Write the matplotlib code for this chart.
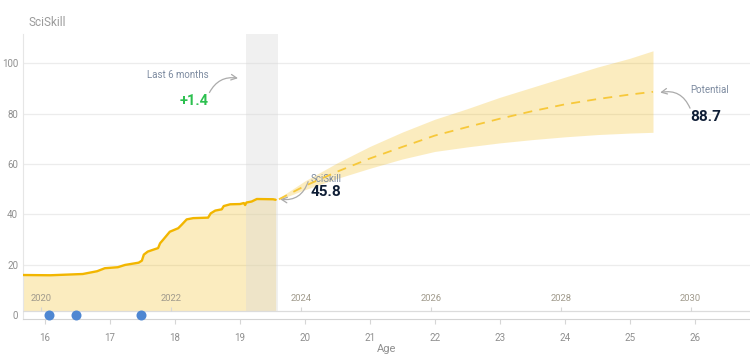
import matplotlib.pyplot as plt

# history of the skill score, by age
hist_age = [15.66, 16.08, 16.58, 16.8, 16.92, 17.12, 17.23, 17.44, 17.49, 17.52,
            17.58, 17.67, 17.74, 17.77, 17.82, 17.92, 18.05, 18.1, 18.18, 18.28,
            18.51, 18.55, 18.62, 18.72, 18.75, 18.85, 19.0, 19.06, 19.08, 19.1,
            19.18, 19.26, 19.51, 19.55]
hist_val = [15.9, 15.8, 16.3, 17.4, 18.6, 19.0, 19.9, 20.8, 21.6, 24.0,
            25.2, 26.0, 26.6, 28.5, 30.0, 33.1, 34.5, 35.8, 38.0, 38.5,
            38.7, 40.4, 41.5, 42.0, 43.3, 44.0, 44.1, 44.5, 43.7, 44.7,
            45.1, 46.1, 46.0, 45.8]

# forecast towards potential
fc_age = [19.6, 20.0, 20.5, 21.0, 21.5, 22.0, 22.5, 23.0, 23.5, 24.0, 24.5, 25.0, 25.36]
fc_mid = [46.0, 51.3, 57.0, 62.2, 66.8, 71.3, 74.7, 78.0, 81.0, 83.7, 85.8, 87.6, 88.7]
fc_high = [46.5, 53.3, 60.5, 67.0, 72.7, 77.8, 82.0, 86.5, 90.5, 94.5, 98.5, 102.0, 105.0]
fc_low = [45.8, 49.8, 54.3, 58.3, 62.0, 65.0, 66.8, 68.4, 69.7, 70.8, 71.7, 72.3, 72.6]

event_age = [16.06, 16.48, 17.48]
last6_start, last6_end = 19.09, 19.58

years = [2020, 2022, 2024, 2026, 2028, 2030]
year_offset = 2004.06
age_ticks = list(range(16, 27))
value_ticks = [0, 20, 40, 60, 80, 100]

current_score = 45.8
potential_score = 88.7
change_6m = 1.4

GOLD = '#f2b600'
GREY_TXT = '#8f8f8f'
LABEL_TXT = '#7d8ba0'
NAVY = '#0f1e36'


def draw():
    plt.rcParams['font.family'] = ['Roboto', 'DejaVu Sans']
    fig = plt.figure(figsize=(7.5, 3.56), dpi=100)
    ax = fig.add_axes([0.0307, 0.103, 0.969, 0.8017])
    ax.set_xlim(15.66, 26.85)
    ax.set_ylim(-1.71, 111.7)

    base = 1.7
    # last 6 months band
    ax.axvspan(last6_start, last6_end, ymin=(base + 1.71) / 113.41, ymax=1,
               color='#d9d9d9', alpha=0.38, lw=0, zorder=3)

    ax.fill_between(hist_age, base, hist_val, color=GOLD, alpha=0.25, lw=0, zorder=2)
    ax.plot(hist_age, hist_val, color=GOLD, lw=1.7, zorder=5, solid_capstyle='round')

    ax.fill_between(fc_age, fc_low, fc_high, color=GOLD, alpha=0.25, lw=0, zorder=2)
    ax.plot(fc_age, fc_mid, color='#f7c83a', lw=1.3, ls=(0, (5, 4)), zorder=5)

    # year axis
    ax.axhline(base, color='#dcdcdc', lw=0.9, zorder=4)
    for y in years:
        a = y - year_offset
        ax.vlines(a, base, base + 1.6, color='#d6d6d6', lw=0.8, zorder=4)
        ax.text(a, 6.6, str(y), ha='center', va='center', fontsize=6.8,
                color='#a09a8c', zorder=6)

    ax.plot(event_age, [0] * len(event_age), 'o', color='#4f87d2', ms=7.2,
            mec='none', zorder=7, clip_on=False)

    # axes styling
    ax.set_yticks(value_ticks)
    ax.set_xticks(age_ticks)
    ax.tick_params(axis='y', length=0, pad=3.5, labelsize=7, labelcolor=GREY_TXT)
    ax.tick_params(axis='x', length=3.5, width=0.8, color='#d6d6d6', pad=6,
                   labelsize=7, labelcolor=GREY_TXT)
    ax.yaxis.grid(True, color='#ececec', lw=0.9, zorder=0)
    ax.yaxis.get_gridlines()[0].set_visible(False)
    ax.set_axisbelow(True)
    for s in ['top', 'right']:
        ax.spines[s].set_visible(False)
    ax.spines['left'].set_color('#e6e6e6')
    ax.spines['bottom'].set_color('#d4d4d4')

    # x label placed by hand so it stays inside the canvas
    fig.text(387 / 750, 1 - 352 / 356, 'Age', fontsize=8, color=GREY_TXT,
             ha='center', va='baseline')

    fig.text(28 / 750, 1 - 23 / 356, 'SciSkill', fontsize=8.5, color='#9a9a9a',
             va='center', ha='left')

    arrow = dict(arrowstyle='->', color='#ababab', lw=0.9, shrinkA=0, shrinkB=0)

    # last 6 months
    ax.text(18.52, 95.4, 'Last 6 months', ha='right', va='center', fontsize=7,
            color=LABEL_TXT)
    ax.text(18.52, 85.0, '+%.1f' % change_6m, ha='right', va='center', fontsize=10.5,
            fontweight='bold', color='#2cc04f')
    ax.annotate('', xy=(18.97, 94.1), xytext=(18.53, 88.4),
                arrowprops=dict(arrow, connectionstyle='arc3,rad=-0.35'))

    # current value
    ax.text(20.09, 54.1, 'SciSkill', ha='left', va='center', fontsize=7,
            color=LABEL_TXT)
    ax.text(20.09, 48.9, '%.1f' % current_score, ha='left', va='center', fontsize=11,
            fontweight='bold', color=NAVY)
    ax.annotate('', xy=(19.62, 46.0), xytext=(20.05, 53.0),
                arrowprops=dict(arrow, connectionstyle='arc3,rad=-0.4'))

    # potential
    ax.text(25.94, 89.5, 'Potential', ha='left', va='center', fontsize=7,
            color=LABEL_TXT)
    ax.text(25.94, 78.8, '%.1f' % potential_score, ha='left', va='center', fontsize=11,
            fontweight='bold', color=NAVY)
    ax.annotate('', xy=(25.47, 88.4), xytext=(25.93, 82.2),
                arrowprops=dict(arrow, connectionstyle='arc3,rad=0.4'))

    fig.savefig('out.png', dpi=100)


def main():
    draw()


if __name__ == "__main__":
    main()
